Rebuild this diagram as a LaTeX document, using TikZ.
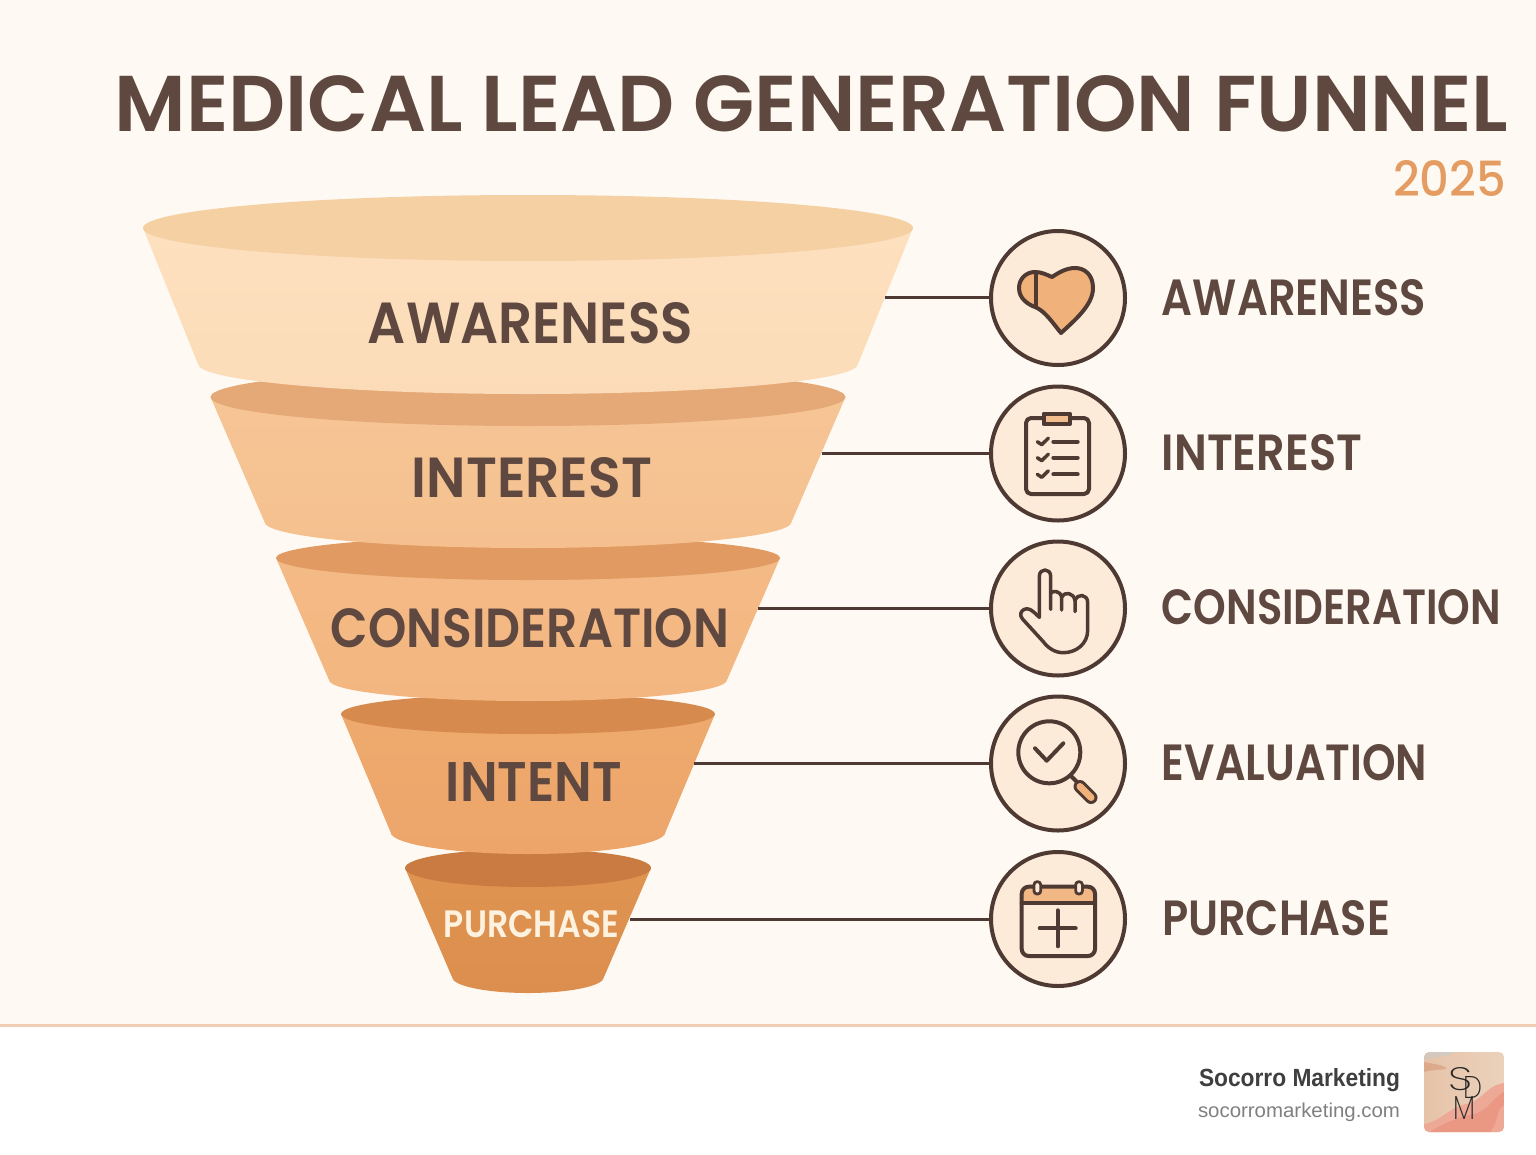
\documentclass[tikz,border=0pt]{standalone}
\usepackage{fontspec}
\setmainfont{Poppins}
\newfontfamily\headfont{Poppins SemiBold}
\newfontfamily\labelfont{Poppins SemiBold}
\newfontfamily\yearfont{Poppins Medium}
\newfontfamily\thinfont{Poppins ExtraLight}
\newfontfamily\footfont{Liberation Sans}
\definecolor{bgcream}{HTML}{FEFAF3}
\definecolor{inkbrown}{HTML}{5E4840}
\definecolor{linebrown}{HTML}{4E3A33}
\definecolor{circfill}{HTML}{FDEBD9}
\definecolor{iconorange}{HTML}{F0B27A}
\definecolor{yearorange}{HTML}{E49C62}
\definecolor{purchasecream}{HTML}{FDF1DF}
\definecolor{footline}{HTML}{F0CDB3}
\definecolor{footdark}{HTML}{3F3F3F}
\definecolor{footgrey}{HTML}{808080}
\definecolor{logoA}{HTML}{E6C3A8}
\definecolor{logoB}{HTML}{EBD2BC}
\definecolor{logoC}{HTML}{C9CCCB}
\definecolor{logoD}{HTML}{D69A78}
\definecolor{logoE}{HTML}{EDA896}
\definecolor{logoF}{HTML}{E8856F}
\newcommand{\fitbox}[3]{\resizebox{#1pt}{#2pt}{#3}}
% top y, top rx, top ry, bottom y, bottom rx, bottom depth, rim colour, body top, body bottom
\newcommand{\funnelband}[9]{%
  \definecolor{rimc}{HTML}{#7}\definecolor{bodya}{HTML}{#8}\definecolor{bodyb}{HTML}{#9}%
  \pgfmathsetmacro{\xa}{528-#2}\pgfmathsetmacro{\xb}{528+#2}%
  \pgfmathsetmacro{\xc}{528-#5}\pgfmathsetmacro{\xd}{528+#5}%
  \pgfmathsetmacro{\yc}{#4+0.5523*#6}\pgfmathsetmacro{\yd}{#4+#6}%
  \pgfmathsetmacro{\xe}{528-0.5523*#5}\pgfmathsetmacro{\xf}{528+0.5523*#5}%
  \shade[top color=bodya,bottom color=bodyb]
    (\xa,#1) -- (\xc,#4) .. controls (\xc,\yc) and (\xe,\yd) .. (528,\yd)
    .. controls (\xf,\yd) and (\xd,\yc) .. (\xd,#4) -- (\xb,#1) -- cycle;
  \fill[rimc] (528,#1) ellipse [x radius=#2pt,y radius=#3pt];
}
\tikzset{
  x=1pt,y=-1pt,
  iconcircle/.style={circle,draw=linebrown,line width=4pt,fill=circfill,minimum size=134pt,inner sep=0pt},
  conn/.style={draw=linebrown,line width=3pt},
  ic/.style={draw=linebrown,line width=4pt,line cap=round,line join=round},
  thin ic/.style={draw=linebrown,line width=3.5pt,line cap=round,line join=round},
  lab/.style={inner sep=0pt,text=inkbrown,font=\labelfont},
}
\begin{document}
\begin{tikzpicture}
\useasboundingbox (0,0) rectangle (1536,1154);
\fill[white] (0,0) rectangle (1536,1154);
\fill[bgcream] (0,0) rectangle (1536,1025);
\draw[footline,line width=3pt] (0,1025.5) -- (1536,1025.5);

% funnel, drawn from the bottom up
\funnelband{868}{123}{19}{977}{76}{16}{C97B42}{DF9450}{DC8E4E}
\funnelband{714}{187}{20}{832}{137.5}{22}{D68A4E}{EEAA6E}{EDA56A}
\funnelband{558}{252}{22}{680}{199}{21}{E09A62}{F4BA86}{F3B680}
\funnelband{397}{317.5}{29}{522}{263.5}{26}{E5A877}{F6C596}{F5C08E}
\funnelband{228}{385}{33}{364}{330}{30}{F5D0A3}{FDE0BF}{FCDCB8}

% title
\node[inner sep=0pt,text=inkbrown,font=\headfont] (title) at (811.5,103.5) {\fitbox{1393}{56}{MEDICAL LEAD GENERATION FUNNEL}};
\node[inner sep=0pt,text=yearorange,font=\yearfont] (year) at (1449.5,178) {\fitbox{113}{36}{2025}};

% funnel labels
\node[lab] (fa) at (530.5,323.5) {\fitbox{325}{41}{AWARENESS}};
\node[lab] (fi) at (532,478) {\fitbox{240}{40}{INTEREST}};
\node[lab] (fc) at (530,628.5) {\fitbox{398}{39}{CONSIDERATION}};
\node[lab] (fn) at (534,781.5) {\fitbox{176}{39}{INTENT}};
\node[lab,text=purchasecream] (fp) at (531.5,924) {\fitbox{175}{27}{PURCHASE}};

% circles
\node[iconcircle] (c1) at (1058,298) {};
\node[iconcircle] (c2) at (1058,453.5) {};
\node[iconcircle] (c3) at (1058,608.5) {};
\node[iconcircle] (c4) at (1058,763.5) {};
\node[iconcircle] (c5) at (1058,919) {};

% connectors
\coordinate (s1) at (885,297);
\coordinate (s2) at (822,453);
\coordinate (s3) at (758,608);
\coordinate (s4) at (694,763.5);
\coordinate (s5) at (630,919);
\draw[conn] (s1) -- (s1 -| c1.west);
\draw[conn] (s2) -- (s2 -| c2.west);
\draw[conn] (s3) -- (s3 -| c3.west);
\draw[conn] (s4) -- (s4 -| c4.west);
\draw[conn] (s5) -- (s5 -| c5.west);

% heart
\filldraw[ic,fill=iconorange] (1061,333) .. controls (1075,320) and (1093,305) .. (1093,288)
  .. controls (1093,275) and (1085,268) .. (1075,268)
  .. controls (1066,268) and (1058,273) .. (1052,277)
  .. controls (1047,275) and (1042,272) .. (1035,272)
  .. controls (1026,272) and (1019,279) .. (1019,288)
  .. controls (1019,298) and (1027,304) .. (1035,307)
  .. controls (1045,311) and (1052,322) .. (1061,333) -- cycle;
\draw[ic] (1036,272) -- (1036,307);

% clipboard
\draw[ic,rounded corners=5pt] (1026,418) rectangle (1089,494);
\filldraw[ic,fill=iconorange!85!white] (1043.5,413.5) rectangle (1070,424);
\foreach \yy in {441.7,457.7,474.3}{
  \draw[thin ic] (1037.3,\yy) -- (1041.7,\yy+3) -- (1048.3,\yy-3.5);
  \draw[ic] (1053.3,\yy) -- (1077.7,\yy);
}

% hand
\draw[thin ic] (1039.3,617.3) -- (1039.3,576.7)
  .. controls (1039.3,572) and (1042,570) .. (1045,570)
  .. controls (1048,570) and (1050.7,572) .. (1050.7,576.7) -- (1050.7,609.3);
\draw[thin ic] (1050.7,593.3) .. controls (1052,590.5) and (1061,590) .. (1061.7,598) -- (1061.7,610);
\draw[thin ic] (1061.7,597) .. controls (1064,591.5) and (1074,592) .. (1075,601) -- (1075,611.7);
\draw[thin ic] (1075,600) .. controls (1077,594) and (1087.7,593) .. (1087.7,603) -- (1087.7,630)
  .. controls (1087.7,644) and (1076,652.7) .. (1063.3,652.7)
  .. controls (1055,652.7) and (1048,648) .. (1043.3,641.7)
  -- (1022.5,619) .. controls (1019,615) and (1021,611) .. (1024,609.5)
  .. controls (1028,607.5) and (1031,609) .. (1039.3,617.3);

% magnifier
\draw[ic] (1049.3,752.3) circle [radius=31pt];
\draw[ic] (1035,748.3) -- (1046.7,760.7) -- (1063.3,743.3);
\draw[ic] (1071,776) -- (1078,783);
\draw[linebrown,line width=13pt,line cap=round] (1080,786.5) -- (1091,797.5);
\draw[iconorange,line width=7pt,line cap=round] (1080,786.5) -- (1091,797.5);

% calendar
\begin{scope}
\clip[rounded corners=7pt] (1021.7,886.7) rectangle (1095,956);
\fill[iconorange!92!white] (1021.7,886.7) rectangle (1095,902.7);
\end{scope}
\draw[ic,rounded corners=7pt] (1021.7,886.7) rectangle (1095,956);
\draw[ic] (1021.7,902.7) -- (1095,902.7);
\filldraw[thin ic,line width=2.8pt,fill=circfill,rounded corners=3pt] (1034,881.7) rectangle (1040.7,894);
\filldraw[thin ic,line width=2.8pt,fill=circfill,rounded corners=3pt] (1075.7,881.7) rectangle (1082.4,894);
\draw[ic] (1057.7,910.3) -- (1057.7,946.3);
\draw[ic] (1039.7,928.3) -- (1075.7,928.3);

% right labels
\node[lab] (r1) at (1294,298) {\fitbox{264}{36}{AWARENESS}};
\node[lab] (r2) at (1262,453) {\fitbox{200}{36}{INTEREST}};
\node[lab] (r3) at (1331.5,607.5) {\fitbox{339}{35}{CONSIDERATION}};
\node[lab] (r4) at (1294.5,763) {\fitbox{265}{36}{EVALUATION}};
\node[lab] (r5) at (1276,918.5) {\fitbox{228}{35}{PURCHASE}};

% footer
\node[inner sep=0pt,text=footdark,font=\footfont\bfseries,anchor=base] (brand) at (1299.5,1086) {\fitbox{201}{18}{Socorro Marketing}};
\node[inner sep=0pt,text=footgrey,font=\footfont,anchor=base] (site) at (1299,1117) {\fitbox{202}{14.5}{socorromarketing.com}};

% logo
\begin{scope}
\clip[rounded corners=5pt] (1424,1052) rectangle (1504,1132);
\shade[left color=logoA,right color=logoB] (1424,1052) rectangle (1504,1132);
\fill[logoC,opacity=.6] (1424,1052) -- (1455,1052) .. controls (1448,1058) and (1435,1056) .. (1424,1060) -- cycle;
\fill[logoD,opacity=.6] (1424,1062) .. controls (1435,1064) and (1448,1066) .. (1446,1069) .. controls (1438,1070) and (1430,1070) .. (1424,1072) -- cycle;
\fill[logoE] (1504,1083) .. controls (1485,1086) and (1484,1100) .. (1466,1104)
  .. controls (1450,1107) and (1440,1122) .. (1424,1124) -- (1424,1132) -- (1504,1132) -- cycle;
\fill[logoF,opacity=.45] (1504,1092) .. controls (1490,1100) and (1488,1112) .. (1470,1115)
  .. controls (1456,1118) and (1440,1125) .. (1430,1132) -- (1490,1132) .. controls (1500,1120) and (1495,1110) .. (1504,1105) -- cycle;
\end{scope}
\node[inner sep=0pt,text=black!85,font=\thinfont] (ls) at (1460,1079.5) {\fitbox{24}{23}{S}};
\node[inner sep=0pt,text=black!85,font=\thinfont] (ld) at (1472.5,1087) {\fitbox{19}{22}{D}};
\node[inner sep=0pt,text=black!85,font=\thinfont] (lm) at (1464,1107.5) {\fitbox{22}{23}{M}};
\end{tikzpicture}
\end{document}
